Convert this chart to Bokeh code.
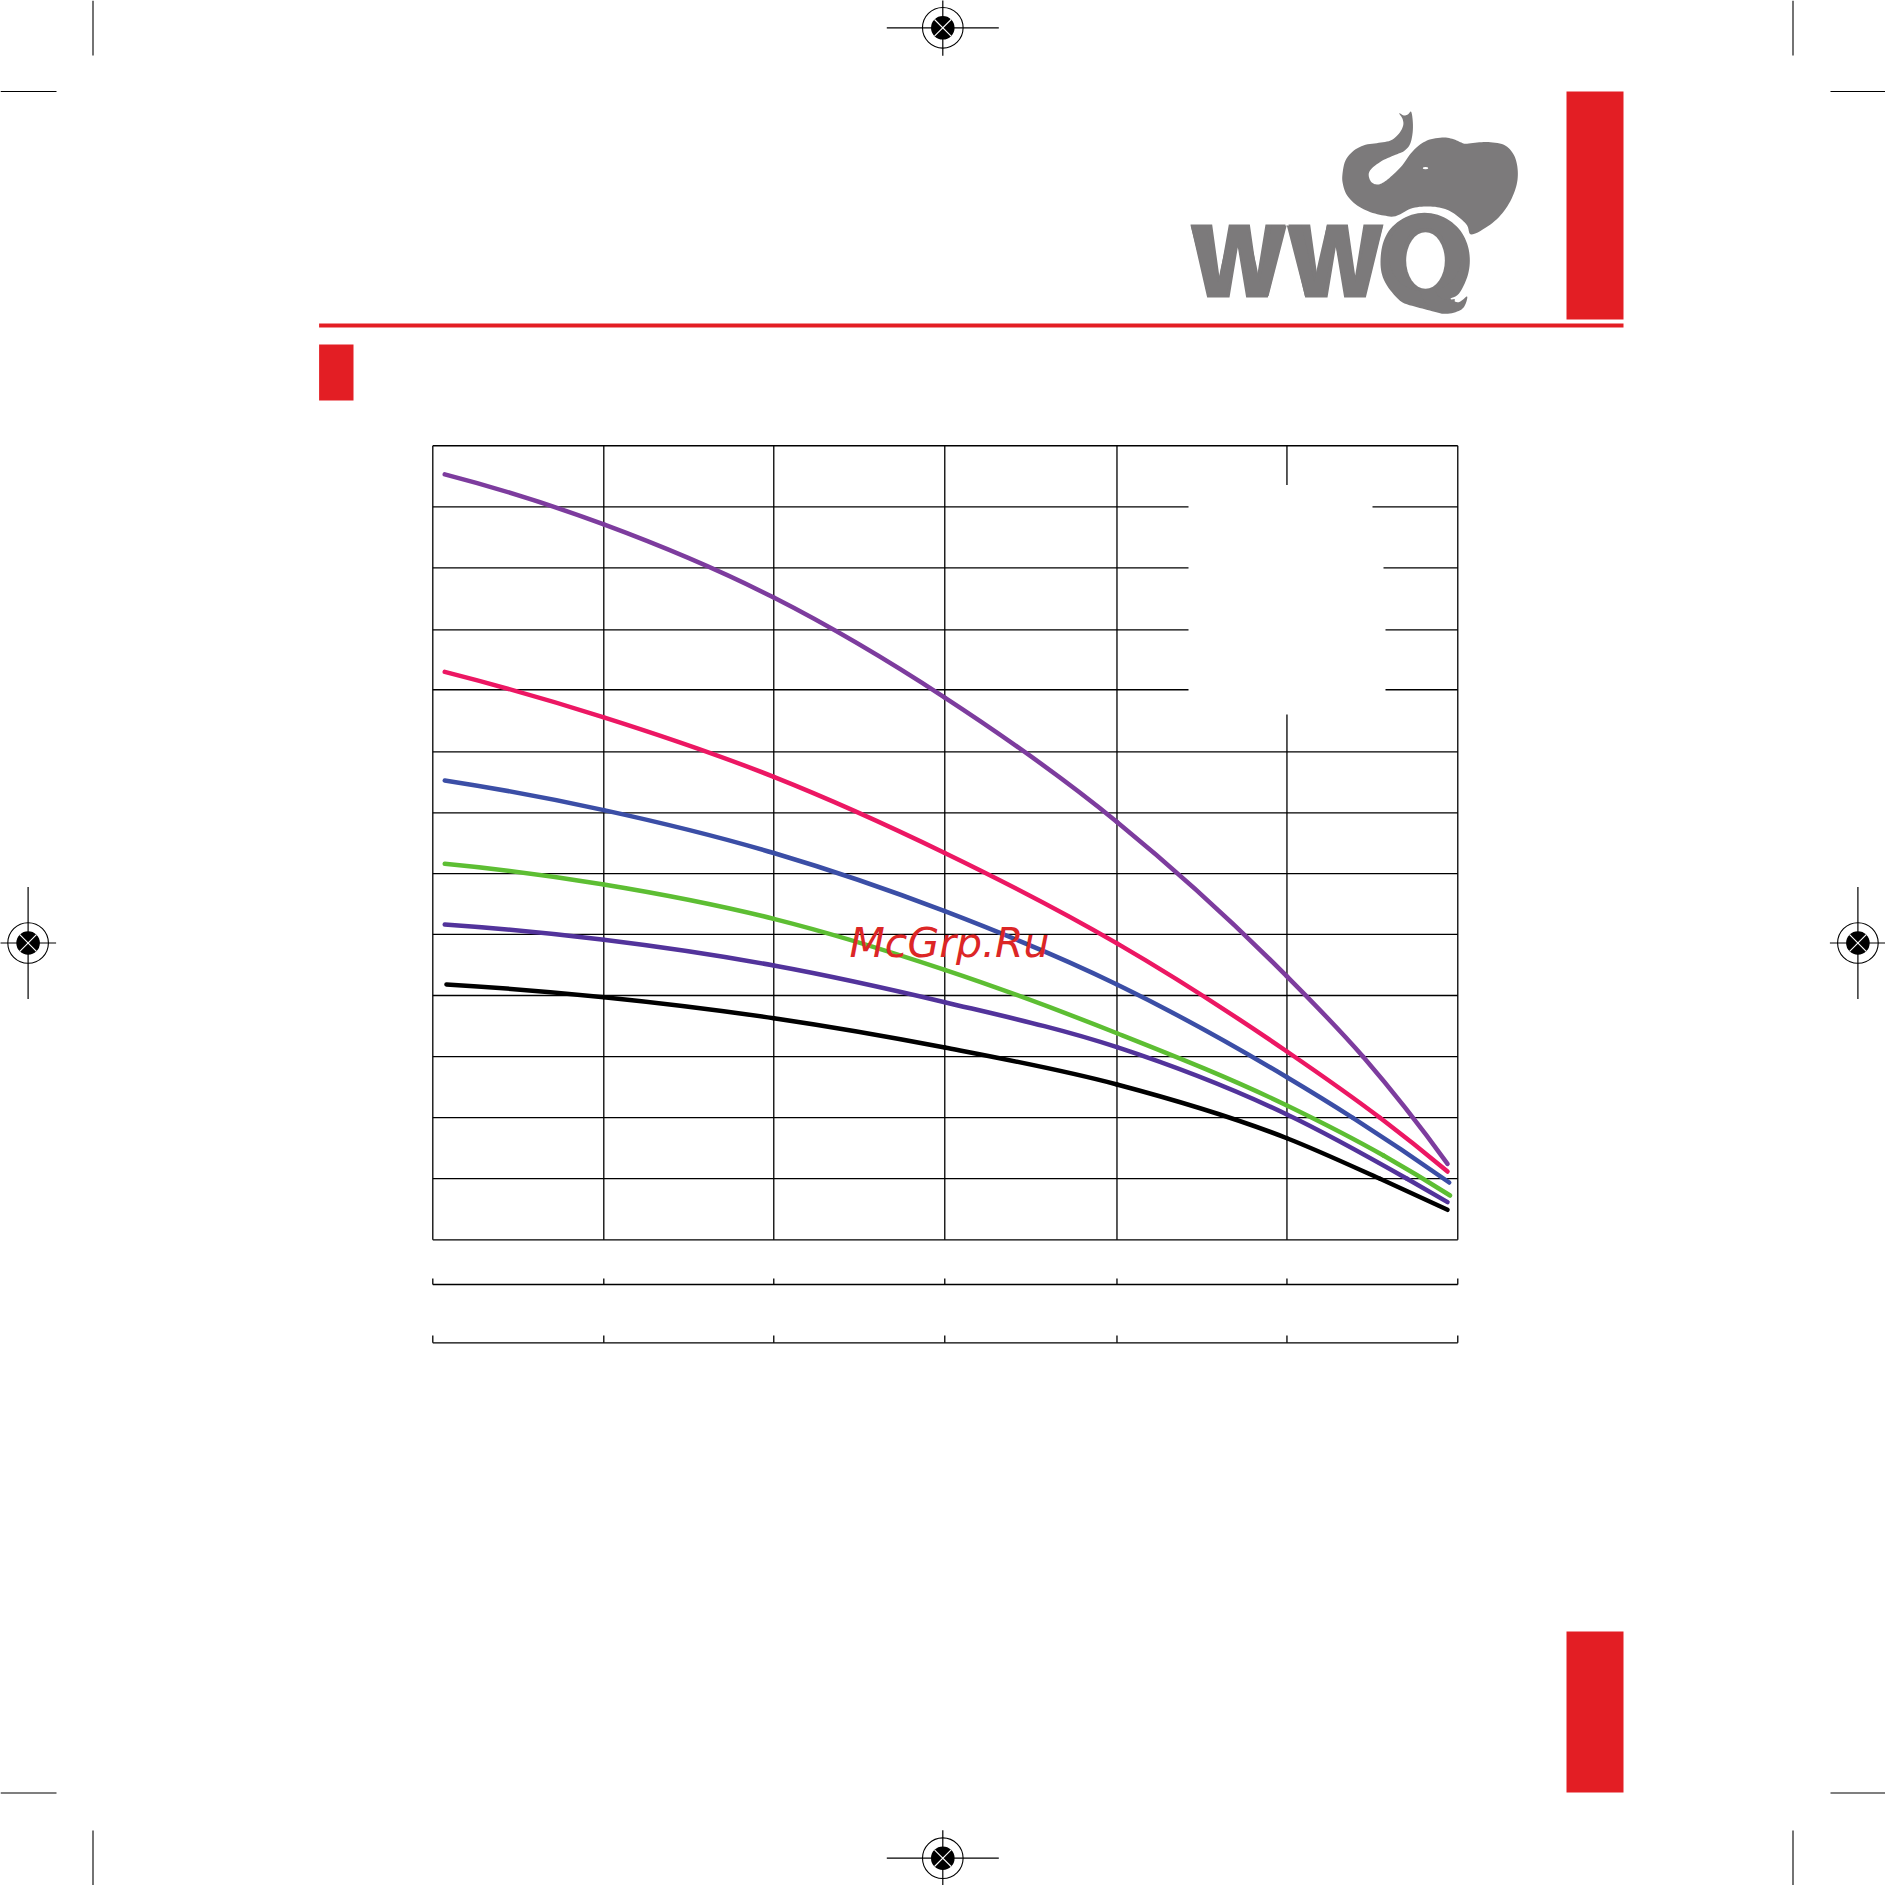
import numpy as np
from bokeh.plotting import figure
from bokeh.models import Range1d
from bokeh.core.properties import value
from bokeh.embed import file_html
from bokeh.resources import INLINE

# ---- chart data (flow Q, head H, in grid units) ----
Q_GRID = [0, 1.001, 1.996, 2.997, 4.005, 5.0, 6.0]
H_GRID = [0, 1, 2, 3, 4, 5, 5.994, 6.988, 7.988, 9.005, 9.987, 11.0, 12.0, 13.0]

Q_A = [0.070, 1.001, 1.996, 2.997, 4.005, 5.000, 5.446, 5.940]
H_A = [12.531, 11.712, 10.514, 8.877, 6.842, 4.312, 2.996, 1.244]

Q_B = [0.070, 1.001, 1.996, 2.997, 4.005, 5.000, 5.545, 5.940]
H_B = [9.298, 8.554, 7.579, 6.333, 4.853, 3.083, 1.997, 1.118]

Q_C = [0.070, 1.001, 1.996, 2.997, 4.005, 5.000, 5.386, 5.950]
H_C = [7.520, 7.035, 6.333, 5.380, 4.180, 2.662, 1.997, 0.938]

Q_D = [0.070, 1.001, 1.996, 2.997, 4.005, 5.000, 5.565, 5.955]
H_D = [6.156, 5.817, 5.255, 4.420, 3.382, 2.199, 1.380, 0.725]

Q_E = [0.070, 1.001, 1.996, 2.997, 4.005, 5.000, 5.703, 5.940]
H_E = [5.162, 4.912, 4.491, 3.890, 3.153, 2.051, 0.999, 0.616]

Q_F = [0.080, 1.001, 1.996, 2.997, 4.005, 5.000, 5.545, 5.940]
H_F = [4.180, 3.972, 3.628, 3.148, 2.543, 1.663, 0.999, 0.491]

SERIES = [
    (Q_A, H_A, "#7D3C9E"),
    (Q_B, H_B, "#EC1763"),
    (Q_C, H_C, "#3B4EA6"),
    (Q_D, H_D, "#5DBE33"),
    (Q_E, H_E, "#52339B"),
    (Q_F, H_F, "#000000"),
]

# ---- page geometry ----
PAGE0, PAGE1 = 0, 1885
X0, XU = 432.3, 170.83       # page x of Q=0, pixels per Q unit
Y0, YU = 1239.3, 61.08       # page y of H=0, pixels per H unit
RED = "#E31E24"
GREY = "#7C7A7B"
BASE_FIX = 0.357             # svg text baseline correction, in em

p = figure(width=PAGE1 - PAGE0, height=PAGE1 - PAGE0, output_backend="svg", toolbar_location=None,
           x_range=Range1d((PAGE0 - X0) / XU, (PAGE1 - X0) / XU),
           y_range=Range1d((Y0 - PAGE1) / YU, (Y0 - PAGE0) / YU),
           min_border=0, x_axis_location=None, y_axis_location=None, outline_line_color=None)
p.grid.visible = False
p.extra_x_ranges["page"] = Range1d(PAGE0, PAGE1)
p.extra_y_ranges["page"] = Range1d(PAGE1, PAGE0)
PG = dict(x_range_name="page", y_range_name="page")


def tangents(x, y):
    """Parabolic tangents at each read point (only used to round the drawn line)."""
    x, y = np.asarray(x, float), np.asarray(y, float)
    h = np.diff(x)
    s = np.diff(y) / h
    t = np.zeros(len(x))
    t[1:-1] = (h[1:] * s[:-1] + h[:-1] * s[1:]) / (h[:-1] + h[1:])
    t[0] = s[0] - h[0] * (s[1] - s[0]) / (h[0] + h[1])
    t[-1] = s[-1] + h[-1] * (s[-1] - s[-2]) / (h[-1] + h[-2])
    return x, y, t


def smooth_closed(zx, zy, n=6):
    """Rounded outline for a logo shape."""
    P = np.column_stack([zx, zy]).astype(float)
    out = []
    for i in range(len(P)):
        a, b, c, d = P[i - 1], P[i], P[(i + 1) % len(P)], P[(i + 2) % len(P)]
        for s in np.linspace(0, 1, n, endpoint=False):
            out.append(0.5 * (2 * b + (c - a) * s + (2 * a - 5 * b + 4 * c - d) * s ** 2 + (3 * b - a - 3 * c + d) * s ** 3))
    out = np.array(out)
    return out[:, 0], out[:, 1]


# ---- grid ----
GRID_W = 1.3
p.segment(x0=Q_GRID, x1=Q_GRID, y0=H_GRID[0], y1=H_GRID[-1], line_color="black", line_width=GRID_W)
p.segment(x0=Q_GRID[0], x1=Q_GRID[-1], y0=H_GRID, y1=H_GRID, line_color="black", line_width=GRID_W)

# ---- white legend knock-out ----
p.patch([1188, 1372, 1372, 1383, 1383, 1385, 1385, 1188],
        [484.6, 484.6, 537, 537, 598, 598, 714, 714], fill_color="white", line_color=None, **PG)

# ---- curves ----
for qs, hs, col in SERIES:
    x, y, t = tangents(qs, hs)
    h = np.diff(x)
    p.bezier(x0=x[:-1], y0=y[:-1], x1=x[1:], y1=y[1:],
             cx0=x[:-1] + h / 3, cy0=y[:-1] + t[:-1] * h / 3,
             cx1=x[1:] - h / 3, cy1=y[1:] - t[1:] * h / 3,
             line_color=col, line_width=4.5, line_cap="round")

# ---- secondary scales under the chart ----
for base, top in [(-0.732, -0.634), (-1.686, -1.567)]:
    p.segment(x0=Q_GRID[0], x1=Q_GRID[-1], y0=base, y1=base, line_color="black", line_width=GRID_W)
    p.segment(x0=Q_GRID, x1=Q_GRID, y0=base, y1=top, line_color="black", line_width=GRID_W)

# ---- red page furniture ----
p.quad(left=[1566, 318.6, 318.6, 1566], right=[1623, 1623, 353, 1623],
       top=[91, 323, 344, 1631], bottom=[319, 327, 400, 1792],
       fill_color=RED, line_color=None, **PG)

# ---- crop marks ----
cx0 = [92.5, 1792.5, 92.5, 1792.5, 0, 1830, 0, 1830]
cx1 = [92.5, 1792.5, 92.5, 1792.5, 56, 1885, 56, 1885]
cy0 = [0, 0, 1830, 1830, 91, 91, 1792.5, 1792.5]
cy1 = [55, 55, 1885, 1885, 91, 91, 1792.5, 1792.5]
p.segment(cx0, cy0, cx1, cy1, line_color="black", line_width=1.1, **PG)

# ---- registration marks ----
REG = [(942.3, 27.3, 56, 28), (942.3, 1857.7, 56, 28), (27.6, 942.5, 28, 56), (1857.4, 942.5, 28, 56)]
for cx, cy, ax, ay in REG:
    p.segment([cx - ax, cx], [cy, cy - ay], [cx + ax, cx], [cy, cy + ay], line_color="black", line_width=1.2, **PG)
    p.scatter([cx], [cy], size=40.6, marker="circle", fill_color=None, line_color="black", line_width=1.1, **PG)
    p.scatter([cx], [cy], size=23.6, marker="circle", fill_color="black", line_color=None, **PG)
    d = 8.3
    p.segment([cx - d, cx - d], [cy - d, cy + d], [cx + d, cx + d], [cy + d, cy - d], line_color="white", line_width=1.1, **PG)

# ---- logo: elephant ----
EL_ZX = [250, 262, 272, 277, 276, 268, 250, 225, 190, 160, 146, 146, 155, 172, 190, 215, 245, 270, 295, 325, 365,
         395, 420, 435, 470, 510, 550, 575, 588, 592, 585, 565, 535, 495, 452, 440, 415, 385, 350, 310, 270, 225, 190,
         150, 110, 80, 67, 66, 75, 100, 135, 175, 210, 235, 248, 246, 236]
EL_ZY = [45, 42, 34, 65, 100, 132, 152, 163, 178, 198, 215, 232, 247, 252, 245, 225, 195, 160, 135, 118, 111,
         115, 125, 130, 126, 125, 133, 155, 185, 225, 265, 310, 350, 382, 402, 375, 350, 330, 320, 318, 325, 347, 345,
         335, 315, 285, 250, 220, 180, 150, 133, 127, 120, 100, 75, 55, 38]
sx, sy = smooth_closed(EL_ZX, EL_ZY)
p.patch(1320 + sx / 3, 100 + sy / 3, fill_color=GREY, line_color=None, **PG)
p.ellipse([1425], [167.7], width=5.5, height=2.2, fill_color="white", line_color=None, **PG)

# ---- logo: heavy letter shapes of the artwork ----
W_ZX = [120, 185, 207, 235, 298, 320, 345, 405, 352, 287, 262, 237, 170]
W_ZY = [432, 432, 590, 432, 432, 585, 432, 432, 651, 651, 500, 651, 651]
for shift in (0, 294):
    p.patch([1150 + (v + shift) / 3 for v in W_ZX], [80 + v / 3 for v in W_ZY], fill_color=GREY, line_color=None, **PG)
Q_ZX = [822, 880, 925, 950, 958, 950, 925, 900, 925, 950, 940, 915, 880, 845, 800, 755, 720, 697, 690, 697, 720, 765]
Q_ZY = [397, 410, 445, 490, 540, 590, 640, 655, 665, 648, 680, 695, 700, 692, 680, 665, 630, 590, 545, 490, 445, 410]
qx, qy = smooth_closed(Q_ZX, Q_ZY)
p.patch(1150 + qx / 3, 80 + qy / 3, fill_color=GREY, line_color=None, **PG)

# ---- logo: wordmark text ----
p.text([1190], [297 - BASE_FIX * 102], text=["WW"], text_font=value("Liberation Sans"), text_font_style="bold",
       text_font_size="102px", text_color=GREY, text_align="left", text_baseline="alphabetic", **PG)
p.text([1384], [290 - BASE_FIX * 105], text=["Q"], text_font=value("Liberation Sans"), text_font_style="bold",
       text_font_size="105px", text_color=GREY, text_align="left", text_baseline="alphabetic", **PG)
p.ellipse([1150 + 825 / 3], [80 + 540 / 3], width=38.7, height=56.7, fill_color="white", line_color=None, **PG)

# ---- watermark ----
p.text([849], [956.7 - BASE_FIX * 41], text=["McGrp.Ru"], text_font=value("DejaVu Sans"), text_font_style="italic",
       text_font_size="41px", text_color="#DC2626", text_align="left", text_baseline="alphabetic", **PG)

open("out.html", "w").write(file_html(p, INLINE))
